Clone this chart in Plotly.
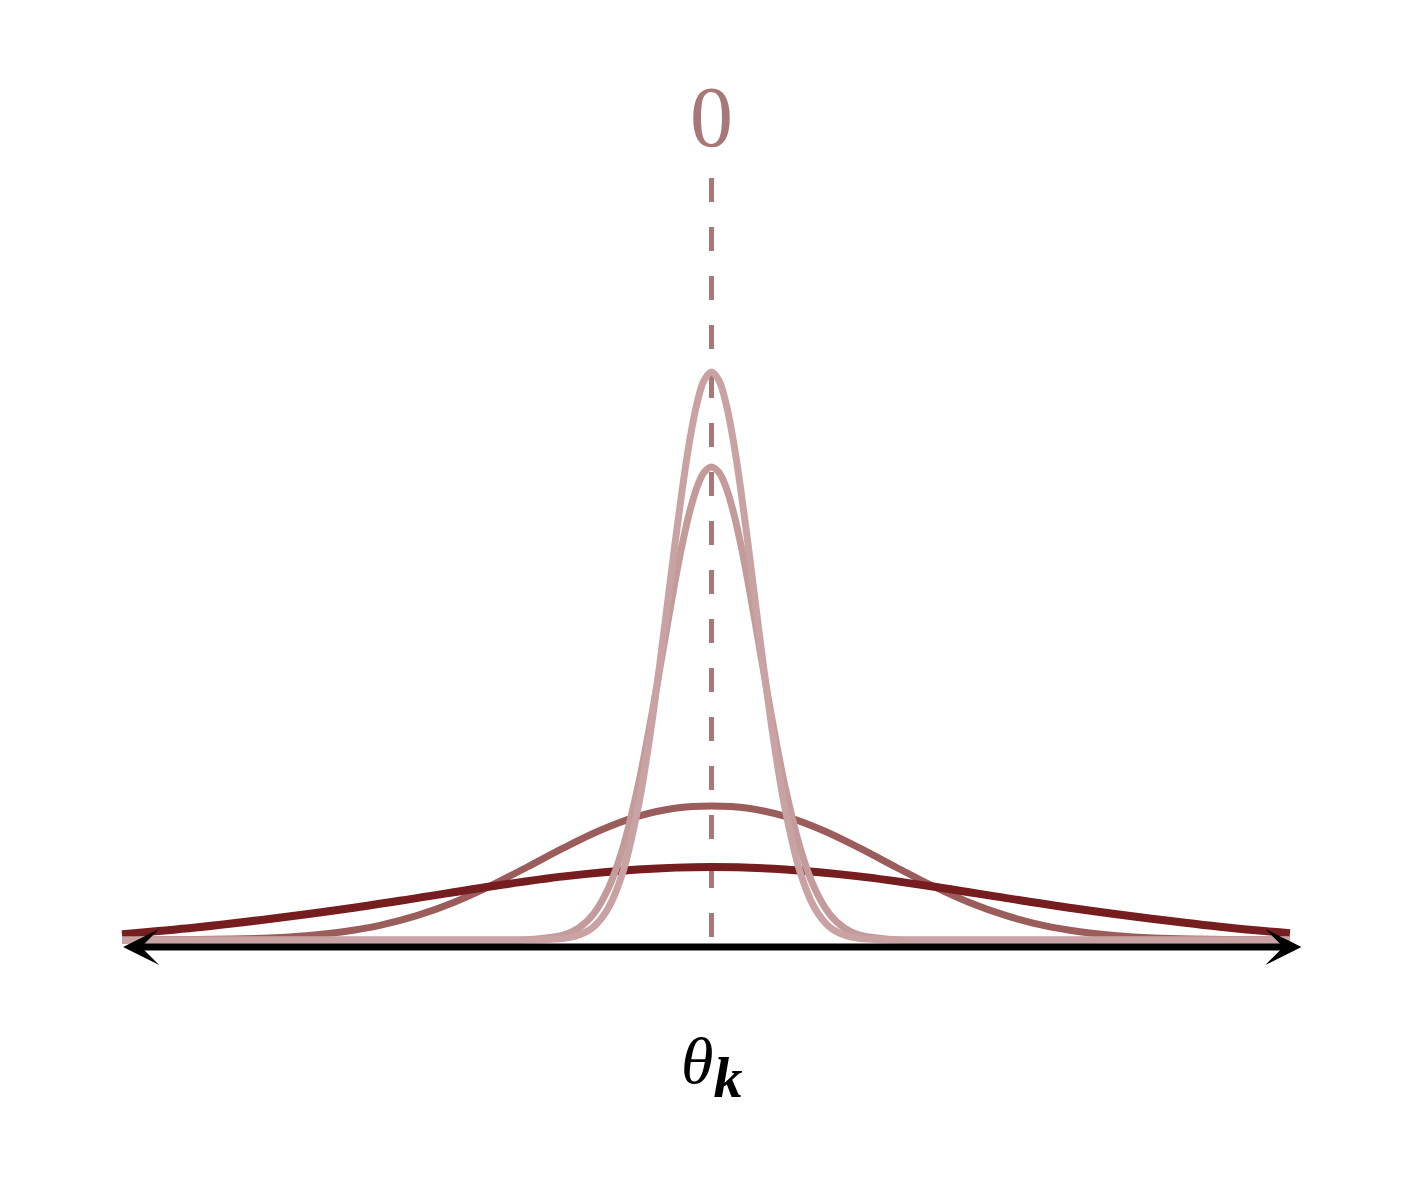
import plotly.graph_objects as go

# ---- data (x in axis units, y in density units) ----
x_narrow = [-4.0, -1.5, -1.2, -1.0, -0.9, -0.8, -0.7, -0.6, -0.5, -0.45, -0.4, -0.35, -0.3, -0.25, -0.2,
            -0.15, -0.1, -0.05, 0.0, 0.05, 0.1, 0.15, 0.2, 0.25, 0.3, 0.35, 0.4, 0.45, 0.5,
            0.6, 0.7, 0.8, 0.9, 1.0, 1.2, 1.5, 3.925]
y_tall = [0.0, 0.0, 0.001, 0.016, 0.049, 0.132, 0.320, 0.686, 1.309, 1.730, 2.220, 2.767, 3.348, 3.935, 4.491,
          4.977, 5.356, 5.597, 5.68, 5.597, 5.356, 4.977, 4.491, 3.935, 3.348, 2.767, 2.220, 1.730, 1.309,
          0.686, 0.320, 0.132, 0.049, 0.016, 0.001, 0.0, 0.0]
y_second = [0.0, 0.0, 0.007, 0.051, 0.121, 0.262, 0.516, 0.928, 1.527, 1.893, 2.294, 2.718, 3.148, 3.566, 3.947,
            4.272, 4.521, 4.677, 4.73, 4.677, 4.521, 4.272, 3.947, 3.566, 3.148, 2.718, 2.294, 1.893, 1.527,
            0.928, 0.516, 0.262, 0.121, 0.051, 0.007, 0.0, 0.0]

x_medium = [-4.0, -3.75, -3.5, -3.25, -3.0, -2.75, -2.5, -2.25, -2.0, -1.75, -1.5, -1.25, -1.0, -0.75, -0.5,
            -0.25, 0.0, 0.25, 0.5, 0.75, 1.0, 1.25, 1.5, 1.75, 2.0, 2.25, 2.5, 2.75, 3.0, 3.25, 3.5, 3.75, 3.925]
y_medium = [0.0005, 0.0014, 0.0038, 0.0093, 0.0207, 0.043, 0.082, 0.146, 0.243, 0.375, 0.541, 0.730, 0.924,
            1.100, 1.236, 1.317, 1.34, 1.317, 1.236, 1.100, 0.924, 0.730, 0.541, 0.375, 0.243, 0.146, 0.082,
            0.043, 0.0207, 0.0093, 0.0038, 0.0014, 0.0007]

x_wide = [-4.0, -3.5, -3.0, -2.5, -2.0, -1.5, -1.0, -0.5, 0.0, 0.5, 1.0, 1.5, 2.0, 2.5, 3.0, 3.5, 3.925]
y_wide = [0.058, 0.125, 0.21, 0.307, 0.419, 0.535, 0.636, 0.705, 0.73,
          0.705, 0.636, 0.535, 0.419, 0.307, 0.21, 0.125, 0.068]

zero_label = "0"
axis_label = ('<i>θ</i><sub><span style="font-size:58px"><b><i>k</i></b></span></sub>')

# ---- style ----
c_dash = "#a87878"
c_tall = "#c9a3a3"
c_second = "#c39b9b"
c_medium = "#9b5c5c"
c_wide = "#761d1f"

fig = go.Figure()

# dashed vertical reference line at 0
fig.add_trace(go.Scatter(x=[0, 0], y=[7.62, 0], mode="lines",
                         line=dict(color=c_dash, width=5, dash="24px,25px"),
                         hoverinfo="skip"))

fig.add_trace(go.Scatter(x=x_medium, y=y_medium, mode="lines",
                         line=dict(color=c_medium, width=7, shape="spline", smoothing=1)))
fig.add_trace(go.Scatter(x=x_wide, y=y_wide, mode="lines",
                         line=dict(color=c_wide, width=8, shape="spline", smoothing=1)))
fig.add_trace(go.Scatter(x=x_narrow, y=y_second, mode="lines",
                         line=dict(color=c_second, width=7, shape="spline", smoothing=1)))
fig.add_trace(go.Scatter(x=x_narrow, y=y_tall, mode="lines",
                         line=dict(color=c_tall, width=7, shape="spline", smoothing=1)))

# double-headed axis arrow
fig.add_annotation(x=4.003, y=-0.07, ax=-4.003, ay=-0.07, xref="x", yref="y",
                   axref="x", ayref="y", text="", showarrow=True,
                   arrowhead=3, startarrowhead=3, arrowside="end+start",
                   arrowwidth=7, arrowsize=0.86, startarrowsize=0.86,
                   arrowcolor="black", standoff=0, startstandoff=0)

fig.add_annotation(x=0, y=8.23, xref="x", yref="y", text=zero_label, showarrow=False,
                   font=dict(family="Liberation Serif", size=86, color=c_dash),
                   xanchor="center", yanchor="middle")

fig.add_annotation(x=0, y=-1.27, xref="x", yref="y", text=axis_label, showarrow=False,
                   font=dict(family="Liberation Serif", size=66, color="black"),
                   xanchor="center", yanchor="middle")

fig.update_layout(
    width=1415, height=1179,
    margin=dict(l=0, r=0, t=0, b=0),
    paper_bgcolor="white", plot_bgcolor="white",
    showlegend=False,
    xaxis=dict(range=[-4.7735, 4.8279], visible=False, fixedrange=True),
    yaxis=dict(range=[-2.47, 9.32], visible=False, fixedrange=True),
)

fig.write_html("out.html")
